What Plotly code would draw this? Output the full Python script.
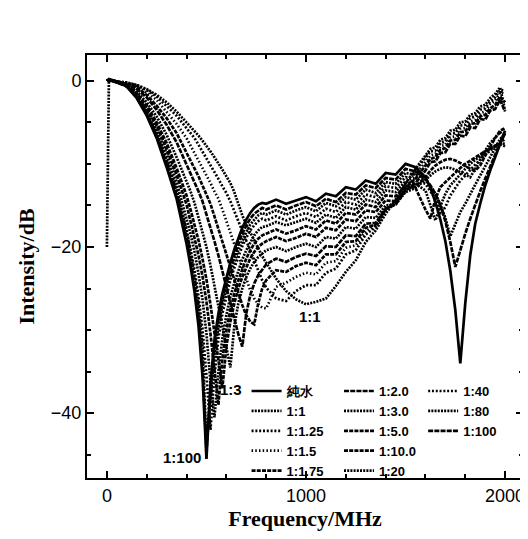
import plotly.graph_objects as go

# Frequency grid (MHz)
freq = [0, 10, 50, 100, 150, 200, 250, 300, 350, 400,
        420, 440, 460, 480, 500, 520, 540, 560, 580, 600,
        620, 640, 660, 680, 700, 720, 740, 760, 780, 800,
        850, 900, 950, 1000, 1050, 1100, 1150, 1200, 1250, 1300,
        1350, 1400, 1450, 1500, 1550, 1600, 1625, 1650, 1675, 1700,
        1725, 1750, 1775, 1800, 1825, 1850, 1875, 1900, 1925, 1950,
        1975, 2000]

pure_water = [0.0, 0.2, -0.1, -0.7, -2.1, -4.2, -6.9, -10.4, -14.2, -19.6,
              -22.3, -25.4, -29.5, -35.5, -45.5, -36.5, -31.2, -28.0, -25.6, -23.6,
              -21.9, -20.3, -18.9, -17.7, -16.7, -15.9, -15.3, -14.9, -14.7, -14.8,
              -14.3, -14.8, -14.4, -14.0, -14.5, -13.6, -13.9, -12.8, -13.1, -12.0,
              -12.4, -11.1, -11.3, -10.0, -10.4, -11.6, -12.9, -14.6, -16.7, -19.3,
              -22.9, -27.6, -34.0, -26.8, -21.0, -17.2, -14.8, -12.6, -10.8, -9.1,
              -7.6, -6.3]

r_1_1 = [-20.0, 0.0, -0.1, -0.2, -0.5, -1.0, -1.7, -2.6, -3.7, -5.0,
         -5.5, -6.0, -6.6, -7.2, -7.8, -8.5, -9.2, -9.9, -10.7, -11.5,
         -12.3, -13.4, -14.8, -16.2, -17.3, -18.3, -19.3, -20.2, -21.1, -21.9,
         -23.8, -25.3, -26.3, -26.9, -26.6, -26.2, -24.7, -23.0, -21.6, -19.4,
         -18.0, -16.0, -14.4, -12.4, -10.6, -9.0, -8.2, -8.0, -7.1, -6.9,
         -6.0, -5.9, -5.0, -4.9, -4.1, -3.9, -3.1, -2.9, -2.1, -1.6,
         -0.8, -3.6]

r_1_125 = [0.0, 0.1, -0.1, -0.25, -0.55, -1.1, -1.9, -3.0, -4.2, -5.7,
           -6.3, -6.9, -7.7, -8.5, -9.3, -10.1, -10.9, -11.8, -12.7, -13.5,
           -14.5, -15.7, -17.0, -18.2, -19.4, -20.6, -21.8, -23.0, -24.0, -24.9,
           -26.2, -26.5, -25.3, -24.6, -24.6, -23.1, -22.6, -20.9, -20.4, -18.5,
           -17.6, -15.6, -14.3, -12.3, -10.8, -9.3, -8.5, -8.4, -7.5, -7.3,
           -6.4, -6.3, -5.4, -5.3, -4.5, -4.3, -3.5, -3.3, -2.5, -2.0,
           -1.1, -1.2]

r_1_15 = [0.0, 0.1, -0.1, -0.3, -0.65, -1.4, -2.3, -3.7, -5.2, -6.9,
          -7.8, -8.6, -9.5, -10.4, -11.4, -12.3, -13.3, -14.2, -15.5, -16.9,
          -18.2, -19.6, -21.0, -22.6, -24.0, -25.2, -26.2, -26.9, -27.3, -27.4,
          -24.8, -24.3, -23.6, -23.1, -23.3, -21.9, -21.7, -20.1, -19.8, -18.1,
          -17.4, -15.6, -14.5, -12.6, -11.3, -9.8, -9.0, -8.8, -7.9, -7.7,
          -6.8, -6.7, -5.8, -5.7, -4.9, -4.7, -3.9, -3.7, -2.8, -2.4,
          -1.4, -1.6]

r_1_175 = [0.0, 0.1, -0.1, -0.4, -0.8, -1.7, -3.0, -4.5, -6.3, -8.6,
           -9.5, -10.5, -11.5, -12.6, -13.6, -14.8, -16.3, -17.8, -19.3, -20.8,
           -22.4, -24.0, -25.6, -27.0, -28.2, -29.0, -29.3, -26.8, -25.0, -24.0,
           -22.8, -23.0, -22.3, -21.9, -22.2, -20.9, -20.9, -19.4, -19.3, -17.7,
           -17.3, -15.5, -14.7, -12.9, -11.8, -10.2, -9.4, -9.2, -8.3, -8.1,
           -7.2, -7.1, -6.2, -6.1, -5.2, -5.1, -4.3, -4.1, -3.3, -2.9,
           -1.9, -2.6]

r_1_2 = [0.0, 0.1, -0.1, -0.45, -1.0, -2.0, -3.5, -5.3, -7.4, -10.0,
         -11.1, -12.2, -13.3, -14.5, -16.0, -17.6, -19.3, -21.0, -22.9, -24.8,
         -26.8, -28.7, -30.5, -32.0, -28.0, -25.8, -24.4, -23.4, -22.7, -22.1,
         -21.4, -21.8, -21.2, -20.8, -21.1, -19.9, -20.0, -18.6, -18.7, -17.2,
         -17.1, -15.4, -14.9, -13.2, -12.3, -10.8, -9.8, -9.7, -8.7, -8.6,
         -7.6, -7.6, -6.6, -6.7, -5.6, -5.7, -4.6, -4.7, -3.6, -3.4,
         -2.3, -3.7]

r_1_3 = [0.0, 0.1, -0.1, -0.5, -1.3, -2.6, -4.3, -6.5, -9.2, -12.1,
         -13.3, -14.7, -16.4, -18.2, -20.0, -22.2, -24.7, -27.0, -29.6, -32.2,
         -34.5, -29.5, -26.8, -25.0, -23.6, -22.6, -21.8, -21.2, -20.8, -20.4,
         -20.0, -20.5, -20.0, -19.6, -20.0, -18.8, -19.0, -17.6, -17.8, -16.4,
         -16.5, -15.0, -14.9, -13.4, -12.9, -11.9, -11.3, -10.9, -10.6, -10.4,
         -10.5, -10.7, -11.0, -11.3, -11.6, -10.6, -9.4, -8.4, -7.5, -6.8,
         -6.2, -6.6]

r_1_5 = [0.0, 0.1, -0.1, -0.55, -1.5, -3.0, -5.0, -7.5, -10.5, -13.8,
         -15.5, -17.3, -19.2, -21.4, -23.9, -26.9, -30.4, -34.0, -37.0, -32.0,
         -29.0, -26.8, -25.0, -23.6, -22.4, -21.4, -20.6, -20.0, -19.6, -19.3,
         -18.8, -19.3, -18.9, -18.4, -18.8, -17.7, -18.0, -16.7, -16.9, -15.6,
         -15.8, -14.4, -14.5, -13.1, -12.7, -11.6, -10.8, -10.2, -9.8, -9.5,
         -9.4, -9.6, -9.9, -10.3, -10.6, -10.8, -10.2, -9.0, -7.9, -6.9,
         -6.0, -5.7]

r_1_10 = [0.0, 0.1, -0.1, -0.6, -1.7, -3.3, -5.4, -8.2, -11.3, -14.9,
          -16.9, -18.8, -21.0, -23.5, -26.6, -30.4, -35.0, -39.0, -33.5, -30.0,
          -27.6, -25.6, -24.0, -22.6, -21.4, -20.4, -19.6, -19.0, -18.6, -18.4,
          -17.9, -18.4, -18.0, -17.5, -17.9, -16.8, -17.2, -15.9, -16.1, -14.9,
          -15.2, -13.8, -13.9, -12.6, -12.9, -15.5, -16.6, -14.2, -12.8, -12.2,
          -11.6, -11.0, -10.5, -10.0, -9.6, -9.2, -8.8, -8.5, -8.1, -7.8,
          -7.6, -7.9]

r_1_20 = [0.0, 0.1, -0.2, -0.6, -1.8, -3.6, -5.9, -8.8, -12.2, -16.4,
          -18.4, -20.6, -23.2, -26.3, -30.4, -36.2, -40.5, -35.0, -31.0, -28.2,
          -26.0, -24.3, -22.8, -21.5, -20.4, -19.4, -18.6, -18.0, -17.6, -17.5,
          -17.0, -17.4, -17.0, -16.6, -17.1, -16.1, -16.5, -15.2, -15.5, -14.3,
          -14.6, -13.2, -13.4, -12.1, -12.4, -13.2, -15.0, -16.8, -15.1, -13.6,
          -12.6, -11.9, -11.2, -10.6, -10.0, -9.5, -9.0, -8.6, -8.2, -7.8,
          -7.5, -7.6]

r_1_40 = [0.0, 0.1, -0.2, -0.65, -1.95, -3.9, -6.4, -9.6, -13.2, -18.0,
          -20.3, -22.8, -25.9, -29.9, -35.5, -42.0, -35.5, -31.0, -28.0, -25.8,
          -24.0, -22.5, -21.1, -19.9, -18.9, -18.0, -17.4, -16.9, -16.6, -16.8,
          -16.3, -16.8, -16.3, -15.9, -16.4, -15.4, -15.8, -14.6, -14.9, -13.7,
          -14.0, -12.7, -12.9, -11.6, -11.9, -12.4, -13.3, -14.2, -16.0, -15.2,
          -13.8, -12.9, -12.0, -11.4, -10.7, -10.1, -9.5, -8.9, -8.4, -7.9,
          -7.4, -7.0]

r_1_80 = [0.0, 0.1, -0.2, -0.6, -1.9, -3.8, -6.3, -9.5, -13.1, -18.0,
          -20.6, -23.5, -27.0, -32.0, -43.5, -38.5, -33.0, -29.6, -27.0, -25.0,
          -23.3, -21.8, -20.4, -19.2, -18.2, -17.3, -16.7, -16.2, -15.9, -16.1,
          -15.6, -16.1, -15.6, -15.2, -15.7, -14.7, -15.1, -14.0, -14.3, -13.1,
          -13.5, -12.2, -12.4, -11.1, -11.3, -11.9, -12.7, -13.6, -14.9, -16.5,
          -18.7, -17.2, -15.8, -14.8, -13.6, -12.5, -11.4, -10.3, -9.2, -8.1,
          -7.0, -6.4]

r_1_100 = [0.0, 0.1, -0.2, -0.7, -2.0, -4.0, -6.6, -10.0, -13.7, -18.9,
           -21.5, -24.5, -28.3, -34.0, -44.5, -37.5, -32.0, -28.8, -26.3, -24.3,
           -22.6, -21.0, -19.6, -18.4, -17.4, -16.6, -16.0, -15.6, -15.3, -15.5,
           -15.0, -15.5, -15.0, -14.6, -15.1, -14.2, -14.6, -13.5, -13.7, -12.6,
           -12.9, -11.7, -11.9, -10.6, -10.9, -11.8, -12.6, -13.6, -15.0, -16.9,
           -19.4, -22.4, -20.3, -18.4, -16.6, -14.9, -13.3, -11.8, -10.3, -8.8,
           -7.4, -6.0]

series_names = ["純水", "1:1", "1:1.25", "1:1.5", "1:1.75",
                "1:2.0", "1:3.0", "1:5.0", "1:10.0", "1:20",
                "1:40", "1:80", "1:100"]
series_values = [pure_water, r_1_1, r_1_125, r_1_15, r_1_175,
                 r_1_2, r_1_3, r_1_5, r_1_10, r_1_20,
                 r_1_40, r_1_80, r_1_100]
series_dash = ["solid", "2px,1.2px", "2px,1.8px", "1.5px,2.2px", "4px,1.2px",
               "5px,1.2px", "2px,1.2px", "4px,1.2px", "4px,1.2px", "2px,1.2px",
               "2px,1.8px", "2px,1.2px", "5px,1.2px"]
series_legend = ["legend"] * 5 + ["legend2"] * 5 + ["legend3"] * 3

x_ticks = [0, 1000, 2000]
y_ticks = [0, -20, -40]

curve_labels = ["1:1", "1:3", "1:100"]
curve_label_x = [1020, 622, 377]
curve_label_y = [-28.4, -37.1, -45.3]

sans = "Liberation Sans"
serif = "Liberation Serif"

fig = go.Figure()
for name, vals, dash, leg in zip(series_names, series_values, series_dash, series_legend):
    fig.add_trace(go.Scatter(
        x=freq, y=vals, mode="lines", name=name, legend=leg,
        line=dict(color="black", width=2.7, dash=dash),
    ))

for t, x, y in zip(curve_labels, curve_label_x, curve_label_y):
    fig.add_annotation(x=x, y=y, text=t, showarrow=False,
                       font=dict(family=sans, size=15, color="black", weight="bold"))

legend_common = dict(xanchor="left", yanchor="top", bgcolor="rgba(0,0,0,0)",
                     font=dict(family=sans, size=13, color="black", weight="bold"),
                     itemwidth=30, tracegroupgap=0, borderwidth=0)

# The page body has an 8px margin, so the figure is 8px smaller than the window
fig.update_layout(
    width=520, height=531,
    margin=dict(l=79, r=5, t=47, b=61, autoexpand=False),
    paper_bgcolor="white", plot_bgcolor="white",
    showlegend=True,
    legend=dict(x=0.366, y=0.241, **legend_common),
    legend2=dict(x=0.578, y=0.241, **legend_common),
    legend3=dict(x=0.771, y=0.241, **legend_common),
    xaxis=dict(
        range=[-100, 2090], tickvals=x_ticks, ticktext=[str(v) for v in x_ticks],
        ticks="inside", ticklen=7, tickwidth=1.5, tickcolor="black",
        showline=True, linewidth=2, linecolor="black", mirror="allticks",
        showgrid=False, zeroline=False, automargin=False,
        minor=dict(dtick=200, tick0=0, ticks="inside", ticklen=4, tickcolor="black", showgrid=False),
        tickfont=dict(family=sans, size=18, color="black"),
        title=dict(text="Frequency/MHz", font=dict(family=serif, size=22, color="black", weight="bold"), standoff=6),
    ),
    yaxis=dict(
        range=[-47.8, 3.1], tickvals=y_ticks, ticktext=["0", "−20", "−40"],
        ticks="inside", ticklen=7, tickwidth=1.5, tickcolor="black",
        showline=True, linewidth=2, linecolor="black", mirror="allticks",
        showgrid=False, zeroline=False, automargin=False,
        minor=dict(dtick=5, tick0=0, ticks="inside", ticklen=4, tickcolor="black", showgrid=False),
        tickfont=dict(family=sans, size=18, color="black"),
        title=dict(text="Intensity/dB", font=dict(family=serif, size=22, color="black", weight="bold"), standoff=10),
    ),
)

fig.write_html("out.html")
